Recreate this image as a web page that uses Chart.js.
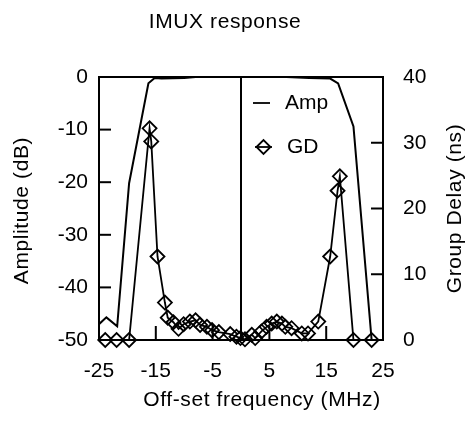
<!DOCTYPE html>
<html>
<head>
<meta charset="utf-8">
<title>IMUX response</title>
<script src="https://cdn.jsdelivr.net/npm/chart.js@4.4.1/dist/chart.umd.min.js"></script>
<style>
	html, body { margin: 0; padding: 0; background: #fff; }
	#wrap { width: 473px; height: 422px; }
</style>
</head>
<body>
<div id="wrap"><canvas id="imux-chart" width="473" height="422"></canvas></div>
<script>
'use strict';

// Amplitude response (left axis, dB).
var ampFreq = [ -25, -23.7, -21.8, -19.7, -16.3, -15.2, -14, -10, -8, 8, 12, 15.7, 17.1, 19.8, 23 ];
var ampDb = [ -47, -45.7, -47.4, -20.2, -1.2, -0.2, -0.3, -0.2, 0, 0, -0.2, -0.3, -1.2, -9.4, -50 ];

// Group delay (right axis, ns).
var gdFreq = [ -23.9, -21.9, -19.7, -16.1, -15.8, -14.7, -13.4, -12.9, -11.9, -11.0, -10.1, -9.0, -8.0, -7.2, -6.0, -5.1, -3.9, -1.9, -0.8, -0.1, 0.7, 1.9, 2.5, 3.6, 4.5, 5.4, 6.3, 7.2, 7.8, 8.9, 10.7, 11.8, 13.6, 15.7, 17.0, 17.4, 19.8, 23.0 ];
var gdNs = [ 0, 0, 0, 32.2, 30.2, 12.7, 5.7, 3.4, 2.7, 1.7, 2.4, 2.8, 3.0, 2.3, 2.0, 1.5, 1.2, 0.9, 0.5, 0.3, 0.1, 0.8, 0.3, 1.3, 2.0, 2.5, 2.8, 2.5, 2.0, 1.8, 1.0, 1.0, 2.8, 12.7, 22.7, 24.9, 0, 0 ];

// Tick labels.
var freqTicks = [ -25, -15, -5, 5, 15, 25 ];
var ampTicks = [ -50, -40, -30, -20, -10, 0 ];
var gdTicks = [ 0, 10, 20, 30, 40 ];

var FONT = "'Liberation Sans', Arial, sans-serif";
var FONT_SIZE = 21;

/**
 * Zip two arrays into {x, y} points.
 */
function pairs( xs, ys ) {
	return xs.map( function( x, i ) {
		return { x: x, y: ys[ i ] };
	} );
}

/**
 * Force the scale ticks to a given list of values.
 */
function fixedTicks( values ) {
	return function( scale ) {
		scale.ticks = values.map( function( v ) {
			return { value: v };
		} );
	};
}

function strokeLine( ctx, x1, y1, x2, y2 ) {
	ctx.beginPath();
	ctx.moveTo( x1, y1 );
	ctx.lineTo( x2, y2 );
	ctx.stroke();
}

function diamond( ctx, x, y, r ) {
	ctx.beginPath();
	ctx.moveTo( x - r, y );
	ctx.lineTo( x, y - r );
	ctx.lineTo( x + r, y );
	ctx.lineTo( x, y + r );
	ctx.closePath();
	ctx.stroke();
}

/**
 * Plot frame, centre line and inward tick marks.
 */
var framePlugin = {
	id: 'frame',
	beforeDatasetsDraw: function( chart ) {
		var a = chart.chartArea;
		var ctx = chart.ctx;
		var sx = chart.scales.x;
		var sy = chart.scales.y;
		var sy1 = chart.scales.y1;

		ctx.save();
		ctx.strokeStyle = '#000';
		ctx.lineWidth = 2;
		ctx.strokeRect( a.left, a.top, a.right - a.left, a.bottom - a.top );

		var cx = sx.getPixelForValue( 0 );
		strokeLine( ctx, cx, a.top, cx, a.bottom );

		sx.ticks.forEach( function( t ) {
			if ( t.value <= sx.min || t.value >= sx.max ) {
				return;
			}
			var px = sx.getPixelForValue( t.value );
			strokeLine( ctx, px, a.bottom, px, a.bottom - 14 );
		} );

		sy.ticks.forEach( function( t ) {
			if ( t.value <= sy.min || t.value >= sy.max ) {
				return;
			}
			var py = sy.getPixelForValue( t.value );
			strokeLine( ctx, a.left, py, a.left + 12, py );
		} );

		sy1.ticks.forEach( function( t ) {
			if ( t.value <= sy1.min || t.value >= sy1.max ) {
				return;
			}
			var py = sy1.getPixelForValue( t.value );
			strokeLine( ctx, a.right, py, a.right - 12, py );
		} );
		ctx.restore();
	}
};

/**
 * Chart title, axis titles and the legend inside the plot.
 */
var textPlugin = {
	id: 'texts',
	afterDraw: function( chart ) {
		var a = chart.chartArea;
		var ctx = chart.ctx;
		var midX = ( a.left + a.right ) / 2;
		var midY = ( a.top + a.bottom ) / 2;

		ctx.save();
		ctx.fillStyle = '#000';
		ctx.strokeStyle = '#000';
		ctx.font = FONT_SIZE + 'px ' + FONT;
		ctx.textBaseline = 'middle';
		ctx.textAlign = 'center';
		if ( 'letterSpacing' in ctx ) {
			ctx.letterSpacing = '0.6px';
		}

		ctx.fillText( 'IMUX response', midX - 16, 22 );
		ctx.fillText( 'Off-set frequency (MHz)', midX + 21, 400 );

		ctx.save();
		ctx.translate( 22, midY + 2 );
		ctx.rotate( -Math.PI / 2 );
		ctx.fillText( 'Amplitude (dB)', 0, 0 );
		ctx.restore();

		ctx.save();
		ctx.translate( 455, midY );
		ctx.rotate( -Math.PI / 2 );
		ctx.fillText( 'Group Delay (ns)', 0, 0 );
		ctx.restore();

		if ( 'letterSpacing' in ctx ) {
			ctx.letterSpacing = '0px';
		}

		// Legend.
		ctx.textAlign = 'left';
		ctx.lineWidth = 1.8;
		strokeLine( ctx, a.left + 154, a.top + 26, a.left + 171, a.top + 26 );
		ctx.fillText( 'Amp', a.left + 186, a.top + 26 );

		strokeLine( ctx, a.left + 156, a.top + 70, a.left + 173, a.top + 70 );
		diamond( ctx, a.left + 164.5, a.top + 70, 7 );
		ctx.fillText( 'GD', a.left + 188, a.top + 70 );
		ctx.restore();
	}
};

var tickFont = { family: FONT, size: FONT_SIZE };

new Chart( document.getElementById( 'imux-chart' ), {
	type: 'line',
	data: {
		datasets: [ {
			label: 'Amp',
			data: pairs( ampFreq, ampDb ),
			yAxisID: 'y',
			borderColor: '#000',
			borderWidth: 2,
			pointRadius: 0,
			tension: 0,
			fill: false
		}, {
			label: 'GD',
			data: pairs( gdFreq, gdNs ),
			yAxisID: 'y1',
			borderColor: '#000',
			borderWidth: 1.8,
			pointStyle: 'rectRot',
			pointRadius: 7,
			pointBorderWidth: 1.8,
			pointBorderColor: '#000',
			pointBackgroundColor: 'rgba(0, 0, 0, 0)',
			tension: 0,
			fill: false,
			clip: false
		} ]
	},
	options: {
		responsive: false,
		animation: false,
		devicePixelRatio: 1,
		layout: {
			padding: { top: 77, left: 0, right: 0, bottom: 0 }
		},
		plugins: {
			legend: { display: false },
			title: { display: false },
			tooltip: { enabled: false }
		},
		scales: {
			x: {
				type: 'linear',
				min: -25,
				max: 25,
				afterBuildTicks: fixedTicks( freqTicks ),
				afterFit: function( scale ) {
					scale.height = 82;
				},
				grid: { display: false, drawTicks: false },
				border: { display: false },
				ticks: {
					font: tickFont,
					color: '#000',
					padding: 19,
					maxRotation: 0,
					autoSkip: false
				}
			},
			y: {
				type: 'linear',
				position: 'left',
				min: -50,
				max: 0,
				afterBuildTicks: fixedTicks( ampTicks ),
				afterFit: function( scale ) {
					scale.width = 99;
				},
				grid: { display: false, drawTicks: false },
				border: { display: false },
				ticks: {
					font: tickFont,
					color: '#000',
					padding: 11
				}
			},
			y1: {
				type: 'linear',
				position: 'right',
				min: 0,
				max: 40,
				afterBuildTicks: fixedTicks( gdTicks ),
				afterFit: function( scale ) {
					scale.width = 90;
				},
				grid: { display: false, drawTicks: false },
				border: { display: false },
				ticks: {
					font: tickFont,
					color: '#000',
					padding: 20
				}
			}
		}
	},
	plugins: [ framePlugin, textPlugin ]
} );
</script>
</body>
</html>
